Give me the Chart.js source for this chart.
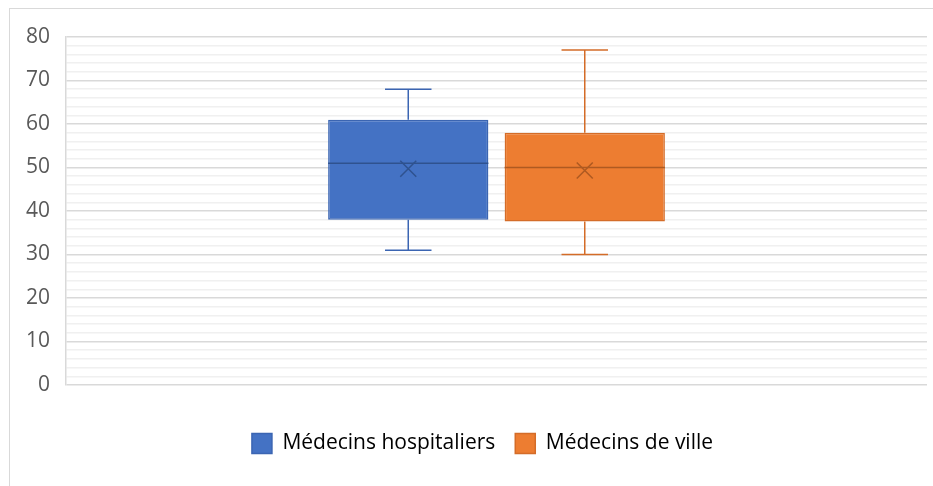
<!DOCTYPE html>
<html>
<head>
<meta charset="utf-8">
<script src="https://cdn.jsdelivr.net/npm/chart.js@4/dist/chart.umd.min.js"></script>
<style>
  html, body { margin: 0; padding: 0; background: #fff; }
  #frame { position: absolute; left: 9px; top: 8px; width: 960px; height: 520px; border: 1px solid #d9d9d9; }
  #wrap { position: absolute; left: 0; top: 0; width: 933px; height: 486px; }
</style>
</head>
<body>
<div id="frame"></div>
<div id="wrap"><canvas id="chart" width="933" height="486"></canvas></div>
<script>
'use strict';

// box-and-whisker values
var seriesNames = ['Médecins hospitaliers', 'Médecins de ville'];
var minValues = [31, 30];
var q1Values = [38, 37.6];
var medianValues = [51, 50];
var q3Values = [61, 58];
var maxValues = [68, 77];
var meanValues = [49.7, 49.3];

var fillColors = ['#4472C4', '#ED7D31'];
var lineColors = ['#3b65b2', '#d46c28'];
var markColors = ['#2f528f', '#ae5a21'];

var datasets = seriesNames.map((name, i) => ({
  label: name,
  data: [[q1Values[i], q3Values[i]]],
  backgroundColor: fillColors[i],
  borderColor: lineColors[i],
  borderWidth: 1.5,
  borderSkipped: false,
  barPercentage: 0.908,
  categoryPercentage: 0.41
}));

// whiskers, median and mean drawn from the y scale
var boxPlugin = {
  id: 'boxExtras',
  afterLayout(chart) {
    // legend sits centred on the outer frame, a bit right of the canvas centre
    chart.legend.left += 14;
    chart.legend.right += 14;
  },
  afterDatasetsDraw(chart) {
    var ctx = chart.ctx;
    var y = chart.scales.y;
    chart.data.datasets.forEach((ds, i) => {
      var bar = chart.getDatasetMeta(i).data[0];
      var x = bar.x, w = bar.width;
      var left = x - w / 2, right = x + w / 2;
      var cap = w * 0.29;
      ctx.save();
      ctx.strokeStyle = lineColors[i];
      ctx.lineWidth = 1.5;
      ctx.beginPath();
      ctx.moveTo(x, y.getPixelForValue(q3Values[i]));
      ctx.lineTo(x, y.getPixelForValue(maxValues[i]));
      ctx.moveTo(x - cap / 2, y.getPixelForValue(maxValues[i]));
      ctx.lineTo(x + cap / 2, y.getPixelForValue(maxValues[i]));
      ctx.moveTo(x, y.getPixelForValue(q1Values[i]));
      ctx.lineTo(x, y.getPixelForValue(minValues[i]));
      ctx.moveTo(x - cap / 2, y.getPixelForValue(minValues[i]));
      ctx.lineTo(x + cap / 2, y.getPixelForValue(minValues[i]));
      ctx.stroke();
      // median
      ctx.strokeStyle = markColors[i];
      ctx.beginPath();
      var my = y.getPixelForValue(medianValues[i]);
      ctx.moveTo(left, my);
      ctx.lineTo(right, my);
      ctx.stroke();
      // mean cross
      var cy = y.getPixelForValue(meanValues[i]);
      var s = 8;
      ctx.beginPath();
      ctx.moveTo(x - s, cy - s);
      ctx.lineTo(x + s, cy + s);
      ctx.moveTo(x + s, cy - s);
      ctx.lineTo(x - s, cy + s);
      ctx.stroke();
      ctx.restore();
    });
  }
};

var ctx = document.getElementById('chart');
var chart = new Chart(ctx, {
  type: 'bar',
  data: { labels: [''], datasets: datasets },
  plugins: [boxPlugin],
  options: {
    responsive: false,
    animation: false,
    layout: { padding: { left: 10, right: 6, top: 37, bottom: 22 } },
    plugins: {
      tooltip: { enabled: false },
      legend: {
        position: 'bottom',
        labels: {
          font: { family: 'Open Sans', size: 21 },
          color: '#595959',
          boxWidth: 20,
          boxHeight: 20,
          padding: 20,
          generateLabels: (c) => seriesNames.map((n, i) => ({
            text: n,
            fillStyle: fillColors[i],
            strokeStyle: lineColors[i],
            lineWidth: 1.5,
            datasetIndex: i
          }))
        }
      }
    },
    scales: {
      x: {
        display: true,
        grid: { display: false },
        border: { display: false },
        ticks: { display: false },
        afterFit: (scale) => { scale.height = 28; }
      },
      y: {
        min: 0,
        max: 80,
        grid: {
          drawTicks: false,
          color: (c) => (c.tick && c.tick.value % 10 === 0) ? '#d9d9d9' : '#f0f0f0',
          lineWidth: 1.5
        },
        border: { display: true, color: '#d9d9d9', width: 1.5 },
        ticks: {
          stepSize: 2,
          autoSkip: false,
          padding: 16,
          color: '#595959',
          font: { family: 'Open Sans', size: 21 },
          callback: (v) => v % 10 === 0 ? String(v) : ''
        }
      }
    }
  }
});
</script>
</body>
</html>
